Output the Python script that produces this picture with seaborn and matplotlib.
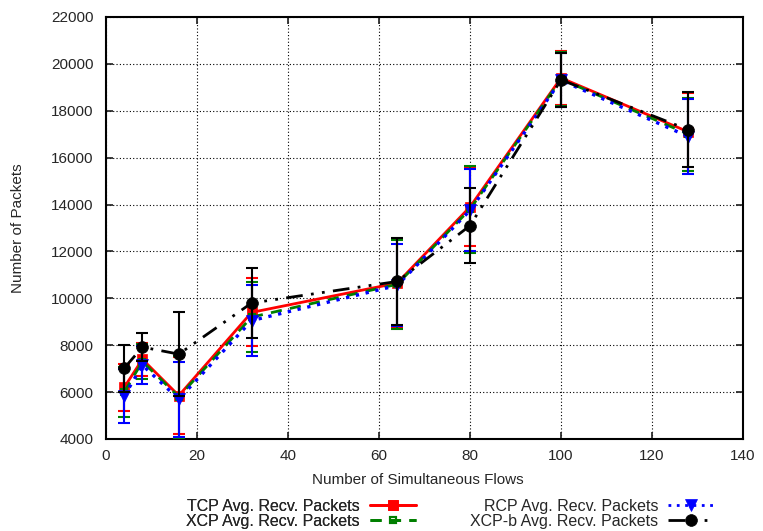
import numpy as np
import pandas as pd
import matplotlib
matplotlib.use("Agg")
import matplotlib.pyplot as plt
import seaborn as sns
from matplotlib.lines import Line2D

flows = [4, 8, 16, 32, 64, 80, 100, 128]

tcp = [6200, 7400, 5850, 9400, 10650, 13900, 19400, 17100]
tcp_err = [1000, 700, 1650, 1450, 1900, 1650, 1150, 1650]
xcp = [6000, 7300, 5800, 9200, 10600, 13800, 19350, 17000]
xcp_err = [1050, 750, 1750, 1500, 1900, 1850, 1150, 1550]
rcp = [5830, 7150, 5700, 9050, 10550, 13750, 19300, 16900]
rcp_err = [1150, 800, 1600, 1500, 1750, 1750, 1150, 1600]
xcpb = [7020, 7920, 7620, 9800, 10720, 13100, 19320, 17190]
xcpb_err = [1000, 600, 1800, 1500, 1850, 1600, 1150, 1600]

labels = ["TCP Avg. Recv. Packets", "XCP Avg. Recv. Packets",
          "RCP Avg. Recv. Packets", "XCP-b Avg. Recv. Packets"]

sns.set_theme(style="ticks")
plt.rcParams['font.family'] = ['Liberation Sans', 'DejaVu Sans']

fig = plt.figure(figsize=(7.63, 5.31), dpi=100)
ax = fig.add_axes([106/763, 1-439/531, (743-106)/763, (439-17)/531])

series = [
    (tcp, tcp_err, "#ff0000", "-", "s", 7.5, "full", labels[0]),
    (xcp, xcp_err, "#007f00", (0, (4, 3)), "s", 4.5, "none", labels[1]),
    (rcp, rcp_err, "#0000ff", (0, (1, 2)), "v", 9, "full", labels[2]),
    (xcpb, xcpb_err, "#000000", (0, (6, 3, 1, 3, 1, 3)), "o", 8.5, "full", labels[3]),
]

handles = []
for i, (vals, errs, col, ls, mk, ms, fill, lab) in enumerate(series):
    df = pd.DataFrame({"flows": flows, "packets": vals})
    ax.errorbar(flows, vals, yerr=errs, fmt="none", ecolor=col, elinewidth=1.5,
                capsize=4, capthick=1.5, zorder=2 + i)
    sns.lineplot(data=df, x="flows", y="packets", ax=ax, color=col, linestyle=ls,
                 linewidth=2 if i != 2 else 2.4, marker=mk, markersize=ms,
                 fillstyle=fill, markeredgecolor=col, markeredgewidth=1.5 if fill == "none" else 0.5,
                 markerfacecolor=col if fill == "full" else "none", zorder=3 + i)
    handles.append(Line2D([], [], color=col, linestyle=ls, linewidth=2,
                          marker=mk, markersize=ms, markerfacecolor=col if fill == "full" else "none",
                          markeredgecolor=col, markeredgewidth=1.5 if fill == "none" else 0.5))

ax.set_xlim(0, 140)
ax.set_ylim(4000, 22000)
ax.set_xticks(range(0, 141, 20))
ax.set_yticks(range(4000, 22001, 2000))
ax.grid(True, color="black", linestyle=(0, (1, 2)), linewidth=0.8)
ax.tick_params(direction="in", length=5, labelsize=11, top=True, right=True)
ax.tick_params(axis="y", pad=9)
ax.tick_params(axis="x", pad=7)
for s in ax.spines.values():
    s.set_linewidth(1.5)
    s.set_color("black")
ax.set_xlabel("Number of Simultaneous Flows", fontsize=11)
ax.set_ylabel("Number of Packets", fontsize=11)
ax.xaxis.set_label_coords((418 - 106) / 637, -(473 - 439) / 422)
ax.yaxis.set_label_coords(-(106 - 25) / 637, 0.5)

common = dict(frameon=False, markerfirst=False, fontsize=11.5, handlelength=2.9,
              labelspacing=0.0, handletextpad=0.6, borderpad=0, borderaxespad=0,
              loc="upper right")
leg1 = fig.legend(handles=handles[:2], labels=labels[:2],
                  bbox_to_anchor=(416/763, 1 - 499/531), **common)
fig.add_artist(leg1)
leg2 = fig.legend(handles=handles[2:], labels=labels[2:],
                  bbox_to_anchor=(714/763, 1 - 499/531), **common)

fig.savefig("out.png", dpi=100)
